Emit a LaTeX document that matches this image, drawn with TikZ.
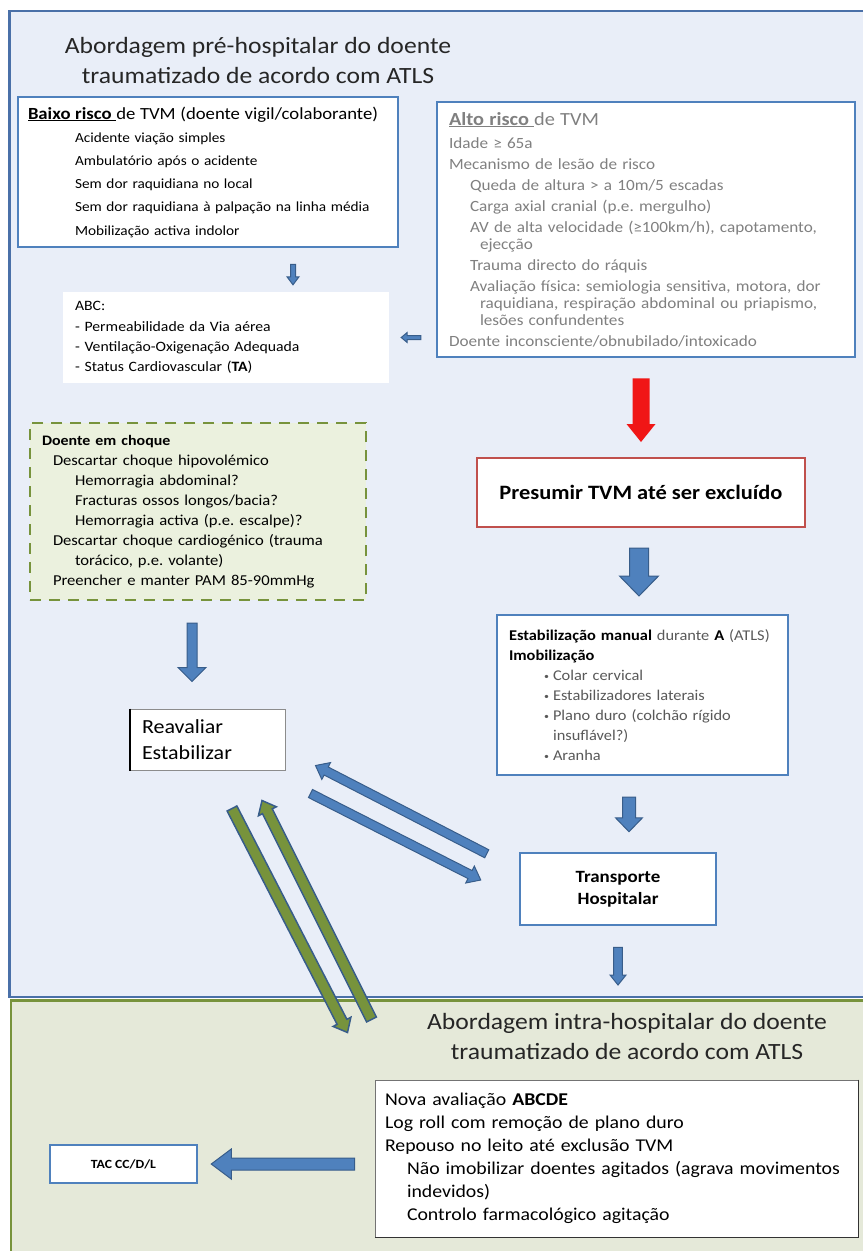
\documentclass[tikz,border=0pt]{standalone}
\usepackage{fontspec}
\setmainfont{Carlito}[FakeStretch=1.1]
\usetikzlibrary{calc,positioning}

\definecolor{panelblue}{RGB}{233,238,248}
\definecolor{panelline}{RGB}{74,112,168}
\definecolor{panelgreen}{RGB}{229,233,217}
\definecolor{greenline}{RGB}{119,147,60}
\definecolor{boxblue}{RGB}{79,129,189}
\definecolor{arrowblue}{RGB}{79,129,189}
\definecolor{arrowedge}{RGB}{56,93,138}
\definecolor{altogray}{RGB}{128,128,128}
\definecolor{estabgray}{RGB}{89,89,89}
\definecolor{choquefill}{RGB}{235,241,222}
\definecolor{riskred}{RGB}{192,80,77}
\definecolor{alertred}{RGB}{240,22,22}

\newcommand{\indt}[1]{\hspace*{#1pt}}
\newcommand{\bul}{\makebox[9pt][l]{\raisebox{1pt}{\fontsize{9}{9}\selectfont•}}}

\tikzset{
  fatshaft/.store in=\fatshaft, fathead/.store in=\fathead, fatlen/.store in=\fatlen,
  fatfrom/.store in=\fatfrom, fatto/.store in=\fatto,
  fatshaft=5pt, fathead=10pt, fatlen=12pt, fatfrom=0pt, fatto=0pt,
  paneltitle/.style={align=center, text=black!85, font=\fontsize{23.3}{30}\selectfont},
  bluebox/.style={draw=boxblue, line width=2.5pt, fill=white, align=left},
  plainbox/.style={fill=white, align=left},
  choquebox/.style={draw=greenline, fill=choquefill, line width=2pt,
    dash pattern=on 11pt off 8pt, align=left},
  redbox/.style={draw=riskred, line width=2pt, fill=white, align=center},
  reavalbox/.style={draw=black!45, line width=1pt, fill=white, align=left},
  novabox/.style={draw=black!55, line width=1pt, fill=white, align=left},
  bluearrow/.style={fill=arrowblue, draw=arrowedge, line width=1pt, line join=miter},
  greenarrow/.style={fill=greenline, draw=arrowedge, line width=1.5pt, line join=miter},
  redarrow/.style={fill=alertred},
}

% block arrow from #2 to #3
\newcommand{\fatarrow}[3][]{%
  \path[#1] let \p1=#2, \p2=#3,
    \p3=($(\p1)!\fatfrom!(\p2)$), \p4=($(\p2)!\fatto!(\p1)$),
    \n1={veclen(\x4-\x3,\y4-\y3)}, \n2={atan2(\y4-\y3,\x4-\x3)} in
    ($(\p3)+(\n2+90:\fatshaft)$)
    -- ($(\p3)+(\n2:\n1-\fatlen)+(\n2+90:\fatshaft)$)
    -- ($(\p3)+(\n2:\n1-\fatlen)+(\n2+90:\fathead)$)
    -- (\p4)
    -- ($(\p3)+(\n2:\n1-\fatlen)+(\n2-90:\fathead)$)
    -- ($(\p3)+(\n2:\n1-\fatlen)+(\n2-90:\fatshaft)$)
    -- ($(\p3)+(\n2-90:\fatshaft)$) -- cycle;}

\begin{document}
\frenchspacing
\begin{tikzpicture}[x=1pt,y=-1pt]
%
\useasboundingbox (0,0) rectangle (863,1251);
%
% panels
\fill[panelblue] (9,10) rectangle (863,998);
\fill[panelgreen] (11,999) rectangle (863,1251);
\draw[panelline,line width=2.5pt] (863,11) -- (9.5,11) -- (9.5,997) -- (863,997);
\draw[greenline,line width=2.5pt] (863,1000.5) -- (11,1000.5) -- (11,1251);
\coordinate (lowtop) at (11,1000);
%
\node[paneltitle] (title1) at (258,60) {Abordagem pré-hospitalar do doente\\traumatizado de acordo com ATLS};
\node[paneltitle] (title2) at (627,1036) {Abordagem intra-hospitalar do doente\\traumatizado de acordo com ATLS};
%
\node[bluebox,text width=360pt,minimum height=150pt,inner xsep=10pt,
  font=\fontsize{13.9}{23.2}\selectfont] (baixo) at (208,172)
  {{\fontsize{17}{16}\selectfont\underline{\textbf{Baixo risco}\ }de TVM (doente vigil/colaborante)}\\
  \indt{47}Acidente viação simples\\
  \indt{47}Ambulatório após o acidente\\
  \indt{47}Sem dor raquidiana no local\\
  \indt{47}Sem dor raquidiana à palpação na linha média\\
  \indt{47}Mobilização activa indolor};
%
\node[bluebox,text width=394pt,minimum height=255pt,inner xsep=12pt,text=altogray,
  font=\fontsize{15.6}{17}\selectfont] (alto) at (646,229.5)
  {{\fontsize{18.5}{18}\selectfont\underline{\textbf{Alto risco}\ }de TVM}\\[6pt]
  Idade ≥ 65a\\[4pt]
  Mecanismo de lesão de risco\\[4pt]
  \indt{21}Queda de altura > a 10m/5 escadas\\[4pt]
  \indt{21}Carga axial cranial (p.e. mergulho)\\[4pt]
  \indt{21}AV de alta velocidade (≥100km/h), capotamento,\\
  \indt{31}ejecção\\[4pt]
  \indt{21}Trauma directo do ráquis\\[4pt]
  \indt{21}Avaliação física: semiologia sensitiva, motora, dor\\
  \indt{31}raquidiana, respiração abdominal ou priapismo,\\
  \indt{31}lesões confundentes\\[4pt]
  Doente inconsciente/obnubilado/intoxicado};
%
\node[plainbox,text width=302pt,minimum height=91pt,inner xsep=12pt,
  font=\fontsize{14.3}{20.3}\selectfont] (abc) at (226,337.5)
  {ABC:\\
  - Permeabilidade da Via aérea\\
  - Ventilação-Oxigenação Adequada\\
  - Status Cardiovascular (\textbf{TA})};
%
\node[choquebox,text width=312pt,minimum height=177pt,inner xsep=12pt,
  font=\fontsize{15.1}{20}\selectfont] (choque) at (198,511.5)
  {{\fontsize{14.5}{14}\selectfont\textbf{Doente em choque}}\\
  \indt{11}Descartar choque hipovolémico\\
  \indt{33}Hemorragia abdominal?\\
  \indt{33}Fracturas ossos longos/bacia?\\
  \indt{33}Hemorragia activa (p.e. escalpe)?\\
  \indt{11}Descartar choque cardiogénico (trauma\\
  \indt{33}torácico, p.e. volante)\\
  \indt{11}Preencher e manter PAM 85-90mmHg};
%
\node[redbox,minimum width=328pt,minimum height=69pt,
  font=\fontsize{20.4}{22}\selectfont\bfseries] (presumir) at (641,492.5)
  {Presumir TVM até ser excluído};
%
\node[bluebox,line width=2pt,text width=267pt,minimum height=160pt,inner xsep=12pt,
  text=estabgray,font=\fontsize{14.9}{20}\selectfont] (estab) at (642.5,695)
  {\textcolor{black}{\textbf{Estabilização manual}} durante \textcolor{black}{\textbf{A}} (ATLS)\\
  \textcolor{black}{\textbf{Imobilização}}\\
  \indt{35}\bul Colar cervical\\
  \indt{35}\bul Estabilizadores laterais\\
  \indt{35}\bul Plano duro (colchão rígido\\
  \indt{44}insuflável?)\\
  \indt{35}\bul Aranha};
%
\node[reavalbox,text width=131pt,minimum height=61pt,inner xsep=12pt,
  font=\fontsize{20}{26}\selectfont] (reaval) at (207.5,739.5)
  {Reavaliar\\Estabilizar};
\draw[black,line width=2pt] (reaval.north west) -- (reaval.south west);
%
\node[bluebox,align=center,minimum width=196pt,minimum height=72pt,
  font=\fontsize{17.2}{22}\selectfont\bfseries] (transp) at (618,889)
  {Transporte\\Hospitalar};
%
\node[bluebox,align=center,minimum width=147pt,minimum height=38pt,
  font=\fontsize{12.5}{15}\selectfont\bfseries] (tac) at (123.5,1164)
  {TAC CC/D/L};
%
\node[novabox,text width=463pt,minimum height=157pt,inner xsep=10pt,
  font=\fontsize{18}{23}\selectfont] (nova) at (616.5,1158.5)
  {Nova avaliação \textbf{ABCDE}\\
  Log roll com remoção de plano duro\\
  Repouso no leito até exclusão TVM\\
  \indt{22}Não imobilizar doentes agitados (agrava movimentos\\
  \indt{22}indevidos)\\
  \indt{22}Controlo farmacológico agitação};
\draw[black!80,line width=1.5pt] (nova.north east) -- (nova.south east) -- (nova.south west);
%
% arrows
\fatarrow[bluearrow,fatshaft=2.5pt,fathead=6pt,fatlen=8pt,fatfrom=16pt,fatto=7pt]
  {($(baixo.south)+(85,0)$)}{($(abc.north)+(67,0)$)}
\fatarrow[bluearrow,fatshaft=2pt,fathead=5pt,fatlen=6pt,fatfrom=15pt,fatto=12pt]
  {(alto.west |- abc.east)}{(abc.east)}
\fatarrow[redarrow,fatshaft=8.5pt,fathead=14.5pt,fatlen=18pt,fatfrom=20pt,fatto=15pt]
  {(alto.south -| presumir.north)}{(presumir.north)}
\fatarrow[bluearrow,fatshaft=9.5pt,fathead=19.5pt,fatlen=20pt,fatfrom=20pt,fatto=18pt]
  {($(presumir.south)+(-2,0)$)}{($(presumir.south |- estab.north)+(-2,0)$)}
\fatarrow[bluearrow,fatshaft=5pt,fathead=14pt,fatlen=14pt,fatfrom=22pt,fatto=27pt]
  {($(choque.south)+(-6,0)$)}{($(choque.south |- reaval.north)+(-6,0)$)}
\fatarrow[bluearrow,fatshaft=6.5pt,fathead=13.5pt,fatlen=14pt,fatfrom=21pt,fatto=20pt]
  {($(estab.south)+(-13.5,0)$)}{($(transp.north)+(11,0)$)}
\fatarrow[bluearrow,fatshaft=4.3pt,fathead=8pt,fatlen=10pt,fatfrom=21pt,fatto=15pt]
  {(transp.south)}{(transp.south |- lowtop)}
\fatarrow[bluearrow,fatshaft=4.5pt,fathead=9.5pt,fatlen=12pt]
  {($(transp.north west)+(-32,2)$)}{($(reaval.south east)+(30,-5)$)}
\fatarrow[bluearrow,fatshaft=4.5pt,fathead=9.5pt,fatlen=12pt]
  {($(reaval.south east)+(25,23)$)}{($(transp.west)+(-38,-9)$)}
\fatarrow[greenarrow,fatshaft=5.5pt,fathead=10pt,fatlen=12pt]
  {($(reaval.south)+(24.5,38)$)}{($(nova.north west)+(-27,-47)$)}
\fatarrow[greenarrow,fatshaft=5.5pt,fathead=10pt,fatlen=12pt]
  {($(nova.north west)+(-3,-60)$)}{($(reaval.south)+(54.5,30)$)}
\fatarrow[bluearrow,fatshaft=6pt,fathead=15pt,fatlen=20pt,fatfrom=20pt,fatto=13pt]
  {(nova.west |- tac.east)}{(tac.east)}
%
\end{tikzpicture}
\end{document}
